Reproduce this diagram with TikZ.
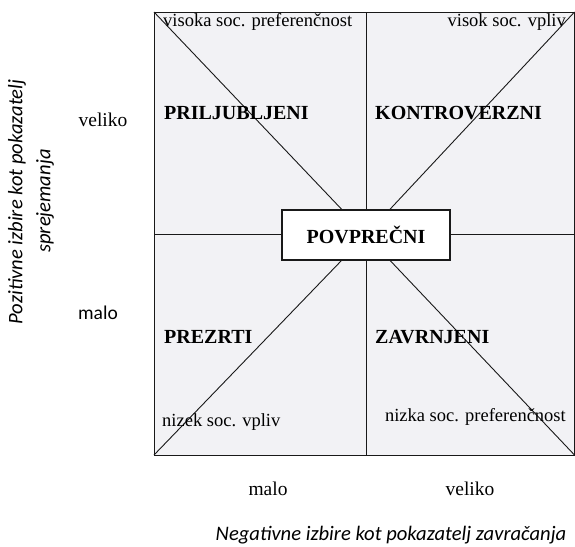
\documentclass[tikz,border=0pt]{standalone}
\usepackage{fontspec}
\setmainfont{Liberation Serif}
\newfontfamily\carlito{Carlito}
\definecolor{quadfill}{RGB}{242,242,245}
\definecolor{linecol}{RGB}{25,25,25}
\begin{document}
\begin{tikzpicture}[x=1pt,y=-1pt,
  lbl/.style={inner sep=0pt,font=\fontsize{18.5}{22}\selectfont},
  cat/.style={inner sep=0pt,font=\fontsize{20}{24}\selectfont\bfseries},
  axis/.style={inner sep=0pt,font=\carlito\itshape\fontsize{20.6}{24}\selectfont},
  tick/.style={inner sep=0pt,font=\fontsize{19.5}{23}\selectfont},
  ticksans/.style={inner sep=0pt,font=\carlito\fontsize{19.5}{23}\selectfont},
  ln/.style={draw=linecol,line width=0.9pt},
  centerbox/.style={draw=linecol,line width=1.3pt,fill=white,minimum width=168pt,minimum height=50pt,inner sep=0pt,font=\fontsize{20}{24}\selectfont\bfseries}]
\useasboundingbox (0,0) rectangle (575,546);
\coordinate (tl) at (154,12);
\coordinate (tr) at (574.5,12);
\coordinate (bl) at (154,455);
\coordinate (br) at (574.5,455);
\coordinate (tm) at (366,12);
\coordinate (bm) at (366,455);
\coordinate (lm) at (154,234);
\coordinate (rm) at (574.5,234);
\fill[quadfill] (tl) rectangle (br);
\node[centerbox] (box) at (366,235) {};
\draw[ln] (tl) -- (box);
\draw[ln] (tr) -- (box);
\draw[ln] (bl) -- (box);
\draw[ln] (br) -- (box);
\draw[ln] (tm) -- (box);
\draw[ln] (bm) -- (box);
\draw[ln] (lm) -- (lm -| box.west);
\draw[ln] (rm) -- (rm -| box.east);
\draw[ln] (tl) rectangle (br);
\node[centerbox] (boxtext) at (366,235) {POVPREČNI};
\node[lbl,anchor=west] (vsp) at (163,22) {visoka soc. preferenčnost};
\node[lbl,anchor=east] (vsv) at (566,22) {visok soc. vpliv};
\node[cat,anchor=west] (pri) at (164,113) {PRILJUBLJENI};
\node[cat,anchor=west] (kon) at (375,113) {KONTROVERZNI};
\node[cat,anchor=west] (pre) at (164,337) {PREZRTI};
\node[cat,anchor=west] (zav) at (375,337) {ZAVRNJENI};
\node[lbl,anchor=west] (nsv) at (162,422) {nizek soc. vpliv};
\node[lbl,anchor=east] (nsp) at (566,417) {nizka soc. preferenčnost};
\node[tick] (lvel) at (103,120) {veliko};
\node[ticksans] (lmal) at (98,313) {malo};
\node[tick] (bmal) at (268,489) {malo};
\node[tick] (bvel) at (470,489) {veliko};
\node[axis] (xax) at (391,535) {Negativne izbire kot pokazatelj zavračanja};
\node[axis,rotate=90] (yax1) at (17,202) {Pozitivne izbire kot pokazatelj};
\node[axis,rotate=90] (yax2) at (45,201) {sprejemanja};
\end{tikzpicture}
\end{document}
